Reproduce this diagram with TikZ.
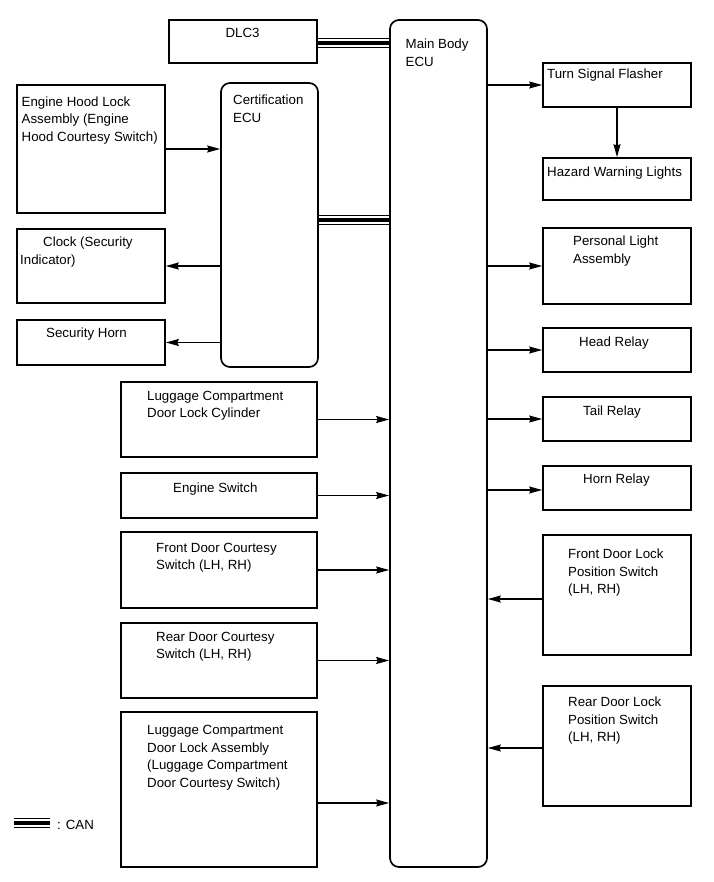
\documentclass[tikz,border=0pt]{standalone}
\usepackage{fontspec}
\setmainfont{Liberation Sans}
\usetikzlibrary{arrows.meta}

\begin{document}
\begin{tikzpicture}[x=1pt, y=-1pt,
	blk/.style={draw, line width=1.7pt, inner sep=0pt, minimum width=148pt},
	wblk/.style={blk, minimum width=196pt},
	ecu/.style={draw, line width=1.7pt, rounded corners=9pt, inner sep=0pt, minimum width=97pt},
	txt/.style={anchor=north west, inner sep=0pt, align=left, font=\fontsize{13.3}{17.5}\selectfont},
	sig/.style={line width=1.2pt, -{Stealth[length=13pt, width=7pt, inset=1.5pt]}},
	can/.style={line width=3.6pt, preaction={draw, double, line width=1.2pt, double distance=8.2pt}}]
	\useasboundingbox (0,0) rectangle (713,882);

	\node [ecu, minimum height=847pt] (main) at (438.5,443.5) {};
	\node [txt] (t-main) at (405.5,39) {Main Body\\ECU};
	\node [ecu, minimum height=284pt] (cert) at (269.5,225) {};
	\node [txt] (t-cert) at (233,95) {Certification\\ECU};

	\node [blk, minimum height=43pt] (dlc) at (243,41.5) {};
	\node [txt, anchor=north] (t-dlc) at (242.5,28.3) {DLC3};
	\node [blk, minimum height=128pt] (hood) at (91,149) {};
	\node [txt] (t-hood) at (21.5,96.5) {Engine Hood Lock\\Assembly (Engine\\Hood Courtesy Switch)};
	\node [blk, minimum height=74pt] (clock) at (91,266) {};
	\node [txt] (t-clock) at (20,237) {\hspace*{23pt}Clock (Security\\Indicator)};
	\node [blk, minimum height=45pt] (shorn) at (91,342.5) {};
	\node [txt] (t-shorn) at (46,328) {Security Horn};

	\node [wblk, minimum height=75pt] (lcyl) at (219,419.5) {};
	\node [txt] (t-lcyl) at (147,391) {Luggage Compartment\\Door Lock Cylinder};
	\node [wblk, minimum height=45pt] (esw) at (219,495.5) {};
	\node [txt] (t-esw) at (173,483) {Engine Switch};
	\node [wblk, minimum height=76pt] (fdcs) at (219,570) {};
	\node [txt] (t-fdcs) at (156,543) {Front Door Courtesy\\Switch (LH, RH)};
	\node [wblk, minimum height=75pt] (rdcs) at (219,660.5) {};
	\node [txt] (t-rdcs) at (156,632) {Rear Door Courtesy\\Switch (LH, RH)};
	\node [wblk, minimum height=155pt] (lasm) at (219,789.5) {};
	\node [txt] (t-lasm) at (147,725.5) {Luggage Compartment\\Door Lock Assembly\\(Luggage Compartment\\Door Courtesy Switch)};

	\node [blk, minimum height=44pt] (tsf) at (617,85) {};
	\node [txt] (t-tsf) at (547,69) {Turn Signal Flasher};
	\node [blk, minimum height=42pt] (hwl) at (617,179) {};
	\node [txt] (t-hwl) at (547,167) {Hazard Warning Lights};
	\node [blk, minimum height=76pt] (pla) at (617,266) {};
	\node [txt] (t-pla) at (573,236) {Personal Light\\Assembly};
	\node [blk, minimum height=44pt] (head) at (617,350) {};
	\node [txt] (t-head) at (579,337) {Head Relay};
	\node [blk, minimum height=44pt] (tail) at (617,419) {};
	\node [txt] (t-tail) at (583,406) {Tail Relay};
	\node [blk, minimum height=44pt] (horn) at (617,488) {};
	\node [txt] (t-horn) at (583,474) {Horn Relay};
	\node [blk, minimum height=120pt] (fdlp) at (617,595) {};
	\node [txt] (t-fdlp) at (568,549) {Front Door Lock\\Position Switch\\(LH, RH)};
	\node [blk, minimum height=120pt] (rdlp) at (617,746) {};
	\node [txt] (t-rdlp) at (568,697) {Rear Door Lock\\Position Switch\\(LH, RH)};

	\draw [can] ([yshift=-1.5pt]dlc.east) -- ([yshift=-1.5pt]dlc.east -| main.west);
	\draw [can] ([yshift=5pt]cert.east) -- ([yshift=5pt]cert.east -| main.west);

	\draw [sig] (hood.east) -- (hood.east -| cert.west);
	\draw [sig] (clock.east -| cert.west) -- (clock.east);
	\draw [sig] (shorn.east -| cert.west) -- (shorn.east);

	\draw [sig] (lcyl.east) -- (lcyl.east -| main.west);
	\draw [sig] (esw.east) -- (esw.east -| main.west);
	\draw [sig] (fdcs.east) -- (fdcs.east -| main.west);
	\draw [sig] (rdcs.east) -- (rdcs.east -| main.west);
	\draw [sig] ([yshift=-13.5pt]lasm.east) -- ([yshift=-13.5pt]lasm.east -| main.west);

	\draw [sig] (tsf.west -| main.east) -- (tsf.west);
	\draw [sig] (tsf.south) -- (hwl.north);
	\draw [sig] (pla.west -| main.east) -- (pla.west);
	\draw [sig] (head.west -| main.east) -- (head.west);
	\draw [sig] (tail.west -| main.east) -- (tail.west);
	\draw [sig] ([yshift=-2pt]horn.west -| main.east) -- ([yshift=-2pt]horn.west);
	\draw [sig] ([yshift=-4pt]fdlp.west) -- ([yshift=-4pt]fdlp.west -| main.east);
	\draw [sig] ([yshift=-2pt]rdlp.west) -- ([yshift=-2pt]rdlp.west -| main.east);

	\coordinate (can-a) at (14,823);
	\coordinate (can-b) at (50,823);
	\draw [can] (can-a) -- (can-b);
	\node [txt] (t-can) at (57,820) {: CAN};
\end{tikzpicture}
\end{document}
